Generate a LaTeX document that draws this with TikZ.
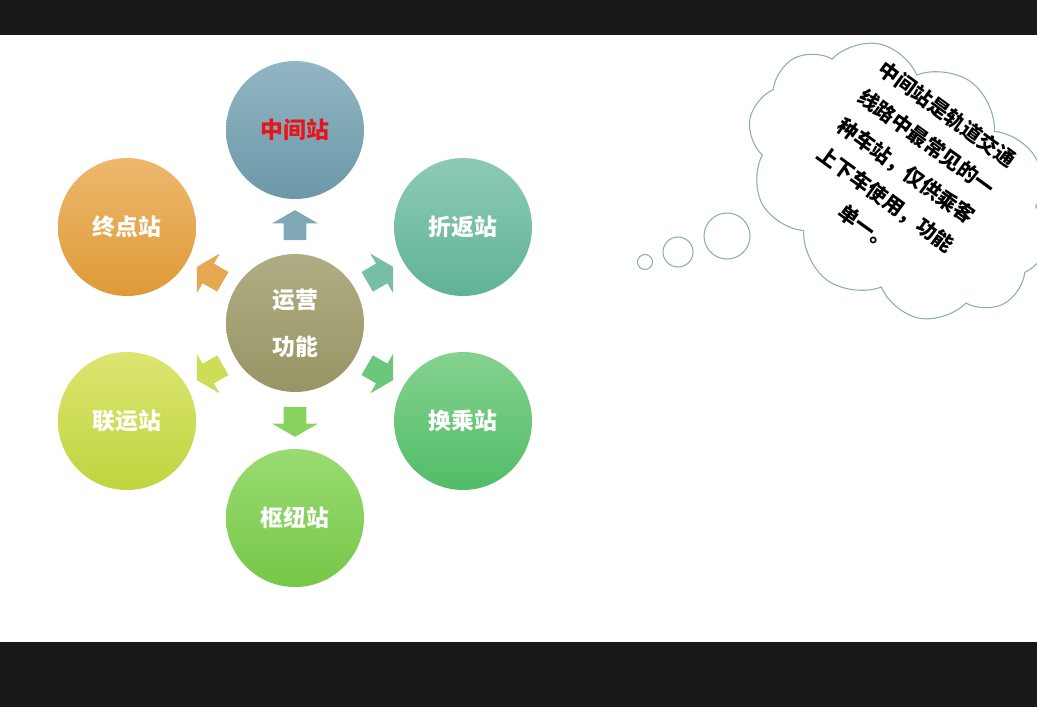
\documentclass[tikz,border=0pt]{standalone}
\usepackage{fontspec}
\usepackage{xcolor}
\usetikzlibrary{calc,positioning,shapes.arrows,shapes.symbols}
\newfontfamily\cjk{Noto Sans CJK SC}
\definecolor{band}{RGB}{24,24,24}
\definecolor{cloudline}{RGB}{140,172,182}
\definecolor{ctrtop}{HTML}{B0AD84}
\definecolor{ctrbot}{HTML}{979565}
\definecolor{midtop}{HTML}{92B6C2}
\definecolor{midbot}{HTML}{6B98A9}
\definecolor{revtop}{HTML}{8DCAB5}
\definecolor{revbot}{HTML}{60B396}
\definecolor{xfrtop}{HTML}{84D28E}
\definecolor{xfrbot}{HTML}{52BC68}
\definecolor{hubtop}{HTML}{9ADB72}
\definecolor{hubbot}{HTML}{76C748}
\definecolor{jnttop}{HTML}{DCE571}
\definecolor{jntbot}{HTML}{BFD43E}
\definecolor{endtop}{HTML}{ECB86E}
\definecolor{endbot}{HTML}{DF9A37}
\definecolor{alert}{HTML}{E8141A}

\begin{document}
\begin{tikzpicture}[x=0.02cm,y=-0.02cm,
      stn/.style={circle,minimum size=2.76cm,inner sep=0pt,text=white,
        font=\cjk\bfseries\fontsize{13}{15}\selectfont},
      blk/.style={single arrow,minimum height=0.6cm,inner sep=0.22cm,outer sep=0pt,
        single arrow head extend=0.23cm,single arrow tip angle=120},
      bubble/.style={circle,draw=cloudline,line width=0.6pt,fill=white,inner sep=0pt}]
    \useasboundingbox (0,0) rectangle (1037,707);
    \fill[band] (0,0) rectangle (1037,35);
    \fill[band] (0,642) rectangle (1037,707);
    % stations
    \node[stn,top color=ctrtop,bottom color=ctrbot,align=center,
      font=\cjk\bfseries\fontsize{13}{26.7}\selectfont] (ctr) at (295,323) {运营\\功能};
    \node[stn,top color=midtop,bottom color=midbot,text=alert] (mid) at (295,130) {中间站};
    \node[stn,top color=revtop,bottom color=revbot] (rev) at (463,227) {折返站};
    \node[stn,top color=xfrtop,bottom color=xfrbot] (xfr) at (463,421) {换乘站};
    \node[stn,top color=hubtop,bottom color=hubbot] (hub) at (295,518) {枢纽站};
    \node[stn,top color=jnttop,bottom color=jntbot] (jnt) at (127,421) {联运站};
    \node[stn,top color=endtop,bottom color=endbot] (end) at (127,227) {终点站};
    % block arrows
    \node[blk,fill=midtop!50!midbot,rotate=90]  (a1) at ($(ctr)!0.49!(mid)$) {};
    \node[blk,fill=revtop!50!revbot,rotate=30]  (a2) at ($(ctr)!0.49!(rev)$) {};
    \node[blk,fill=xfrtop!50!xfrbot,rotate=330] (a3) at ($(ctr)!0.49!(xfr)$) {};
    \node[blk,fill=hubtop!50!hubbot,rotate=270] (a4) at ($(ctr)!0.49!(hub)$) {};
    \node[blk,fill=jnttop!50!jntbot,rotate=210] (a5) at ($(ctr)!0.49!(jnt)$) {};
    \node[blk,fill=endtop!50!endbot,rotate=150] (a6) at ($(ctr)!0.49!(end)$) {};
    % thought cloud
    \node[cloud,cloud puffs=10,cloud puff arc=115,aspect=1.25,draw=cloudline,line width=0.6pt,
      fill=white,minimum width=6.6cm,minimum height=4.9cm,inner sep=-0.6cm,rotate=-36,align=center,
      text depth=0.55cm,font=\cjk\bfseries\fontsize{11.6}{19.8}\selectfont] (note) at (899,181)
      {中间站是轨道交通\\线路中最常见的一\\种车站，仅供乘客\\上下车使用，功能\\单一。};
    \node[bubble,minimum size=0.92cm] (b3) at (727,236) {};
    \node[bubble,minimum size=0.6cm]  (b2) at (678,252) {};
    \node[bubble,minimum size=0.3cm]  (b1) at (645,262) {};
  \end{tikzpicture}
\end{document}
